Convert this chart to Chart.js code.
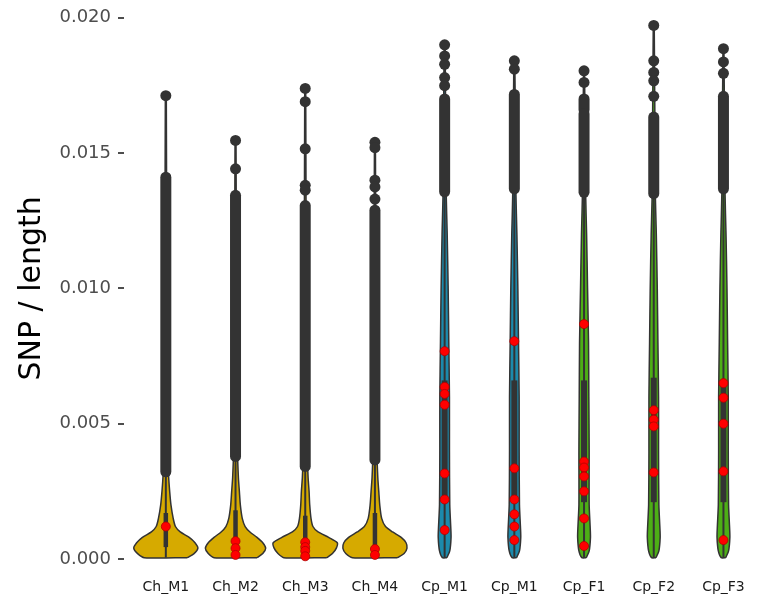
<!DOCTYPE html>
<html>
<head>
<meta charset="utf-8">
<script src="https://cdn.jsdelivr.net/npm/chart.js@4.4.0/dist/chart.umd.min.js"></script>
<style>
  html, body { margin: 0; padding: 0; background: #fff; }
</style>
</head>
<body>
<canvas id="chart" width="765" height="600"></canvas>
<script>
// categories (the second Cp_M1 label is repeated as in the source)
const categories = ['Ch_M1', 'Ch_M2', 'Ch_M3', 'Ch_M4', 'Cp_M1', 'Cp_M1', 'Cp_F1', 'Cp_F2', 'Cp_F3'];

// violin density profiles (relative, 1 = widest), sampled at these levels + the group's max
const chLevels = [0.00005, 0.0002, 0.0004, 0.0006, 0.0008, 0.001, 0.0012, 0.0015, 0.002, 0.0025, 0.003, 0.004, 0.006];
const cpLevels = [0.00005, 0.0003, 0.0008, 0.0012, 0.002, 0.004, 0.006, 0.008, 0.010, 0.012, 0.0135];
const violinDensity = [
  [0.67, 0.88, 1.00, 0.91, 0.73, 0.45, 0.30, 0.23, 0.16, 0.12, 0.09, 0.06, 0.04, 0.015],
  [0.67, 0.85, 0.94, 0.85, 0.67, 0.45, 0.30, 0.21, 0.15, 0.12, 0.09, 0.06, 0.04, 0.015],
  [0.67, 0.85, 0.97, 1.00, 0.73, 0.40, 0.24, 0.18, 0.14, 0.12, 0.09, 0.06, 0.04, 0.015],
  [0.70, 0.91, 1.00, 0.97, 0.82, 0.55, 0.33, 0.21, 0.15, 0.12, 0.09, 0.06, 0.04, 0.015],
  [0.07, 0.16, 0.20, 0.19, 0.16, 0.15, 0.15, 0.13, 0.11, 0.08, 0.05, 0.015],
  [0.07, 0.16, 0.20, 0.19, 0.16, 0.15, 0.15, 0.13, 0.11, 0.08, 0.05, 0.015],
  [0.07, 0.16, 0.20, 0.19, 0.16, 0.16, 0.15, 0.14, 0.11, 0.08, 0.05, 0.015],
  [0.07, 0.16, 0.20, 0.19, 0.16, 0.15, 0.15, 0.13, 0.11, 0.08, 0.05, 0.015],
  [0.07, 0.16, 0.20, 0.19, 0.16, 0.15, 0.15, 0.13, 0.11, 0.08, 0.05, 0.015]
];
const violinMax = [0.01712, 0.01547, 0.01739, 0.0154, 0.0190, 0.01841, 0.01804, 0.01972, 0.01886];

// box plot
const boxQ1 = [0.00044, 0.0004, 0.0002, 0.00033, 0.0022, 0.0022, 0.0021, 0.0021, 0.0021];
const boxQ3 = [0.0017, 0.0018, 0.0016, 0.0017, 0.0066, 0.0066, 0.0066, 0.0067, 0.0066];
const whiskerLow = [0.00005, 0.00005, 0.00005, 0.00005, 0.00005, 0.00005, 0.00005, 0.00005, 0.00005];
const whiskerHigh = [0.00322, 0.00379, 0.00342, 0.00366, 0.01357, 0.01368, 0.01355, 0.0135, 0.01368];

// outliers: dense stacks [from, to] and separate points
const outlierRuns = [
  [[0.00322, 0.01411]],
  [[0.00379, 0.01344]],
  [[0.00342, 0.01306]],
  [[0.00366, 0.01289]],
  [[0.01357, 0.0170]],
  [[0.01368, 0.01717]],
  [[0.01355, 0.01645], [0.0166, 0.0170]],
  [[0.0135, 0.01633]],
  [[0.01368, 0.0171]]
];
const outlierPoints = [
  [0.01712],
  [0.01547, 0.01442],
  [0.01739, 0.0169, 0.01516, 0.01381, 0.01363],
  [0.0154, 0.0152, 0.0140, 0.01375, 0.0133],
  [0.0190, 0.01859, 0.01828, 0.01779, 0.01749],
  [0.01841, 0.0181],
  [0.01804, 0.01761],
  [0.01972, 0.01841, 0.01798, 0.01767, 0.0171],
  [0.01886, 0.01837, 0.01795]
];

// highlighted samples (red)
const redPoints = [
  [0.0012],
  [0.00066, 0.0004, 0.00015],
  [0.00062, 0.00044, 0.0003, 0.0001],
  [0.00037, 0.00015],
  [0.00768, 0.00636, 0.0061, 0.0057, 0.00316, 0.0022, 0.00107],
  [0.00805, 0.00335, 0.0022, 0.00165, 0.0012, 0.0007],
  [0.00868, 0.0036, 0.00338, 0.00305, 0.0025, 0.0015, 0.00048],
  [0.0055, 0.00515, 0.0049, 0.0032],
  [0.0065, 0.00596, 0.005, 0.00324, 0.0007]
];

const yTicks = [0, 0.005, 0.010, 0.015, 0.020];

const fillColors = ['#d6aa00', '#d6aa00', '#d6aa00', '#d6aa00',
  '#1c8aac', '#1c8aac', '#4dae16', '#4dae16', '#4dae16'];
const DARK = '#333333';
const HALF_WIDTH = 0.46; // x units at density 1

function violinShape(i) {
  const levels = (i < 4 ? chLevels : cpLevels).concat([violinMax[i]]);
  const dens = violinDensity[i];
  const right = levels.map((y, k) => ({ x: i + dens[k] * HALF_WIDTH, y }));
  const left = levels.map((y, k) => ({ x: i - dens[k] * HALF_WIDTH, y })).reverse();
  return right.concat(left, [right[0]]);
}

const datasets = [];

categories.forEach((c, i) => {
  datasets.push({
    data: violinShape(i),
    showLine: true, fill: 'shape', tension: 0.25,
    backgroundColor: fillColors[i], borderColor: DARK, borderWidth: 1.5,
    pointRadius: 0, order: 5
  });
  datasets.push({
    data: [{ x: i, y: whiskerLow[i] }, { x: i, y: whiskerHigh[i] }],
    showLine: true, borderColor: DARK, borderWidth: 2, pointRadius: 0, order: 4
  });
  datasets.push({
    data: [{ x: i, y: boxQ1[i] }, { x: i, y: boxQ3[i] }],
    showLine: true, borderColor: DARK, borderWidth: i < 4 ? 4.5 : 6,
    borderCapStyle: 'butt', pointRadius: 0, order: 3
  });
  outlierRuns[i].forEach(r => {
    datasets.push({
      data: [{ x: i, y: r[0] }, { x: i, y: r[1] }],
      showLine: true, borderColor: DARK, borderWidth: 11,
      borderCapStyle: 'round', pointRadius: 0, order: 2
    });
  });
});

datasets.push({
  data: outlierPoints.flatMap((arr, i) => arr.map(v => ({ x: i, y: v }))),
  pointRadius: 5.5, pointBackgroundColor: DARK, pointBorderWidth: 0, order: 1
});
datasets.push({
  data: redPoints.flatMap((arr, i) => arr.map(v => ({ x: i, y: v }))),
  pointRadius: 4.5, pointBackgroundColor: '#ff0000', pointBorderColor: '#b00000',
  pointBorderWidth: 0.8, order: 0
});
datasets.forEach(d => { d.clip = false; });

new Chart(document.getElementById('chart'), {
  type: 'scatter',
  data: { datasets },
  options: {
    responsive: false,
    animation: false,
    layout: { padding: { left: 14, top: 15, right: 0, bottom: 0 } },
    plugins: { legend: { display: false }, tooltip: { enabled: false } },
    scales: {
      x: {
        type: 'linear', min: -0.6, max: 8.39,
        afterBuildTicks: (scale) => { scale.ticks = categories.map((c, i) => ({ value: i })); },
        afterFit: (scale) => { scale.height = 41; },
        grid: { display: false, drawTicks: false },
        border: { display: false },
        ticks: {
          padding: 20, autoSkip: false, maxRotation: 0,
          color: '#1a1a1a', font: { family: 'DejaVu Sans', size: 14 },
          callback: (v) => categories[v]
        }
      },
      y: {
        min: 0, max: 0.020,
        afterBuildTicks: (scale) => { scale.ticks = yTicks.map(v => ({ value: v })); },
        afterFit: (scale) => { scale.width = 110; },
        grid: { display: true, drawOnChartArea: false, drawTicks: true, tickLength: 6, color: '#4d4d4d', lineWidth: 2 },
        border: { display: false },
        ticks: {
          padding: 7, color: '#4d4d4d', font: { family: 'DejaVu Sans', size: 18 },
          callback: (v) => v.toFixed(3)
        },
        title: {
          display: true, text: 'SNP / length', color: '#000',
          font: { family: 'DejaVu Sans', size: 30 }, padding: { top: 0, bottom: 0 }
        }
      }
    }
  }
});
</script>
</body>
</html>
